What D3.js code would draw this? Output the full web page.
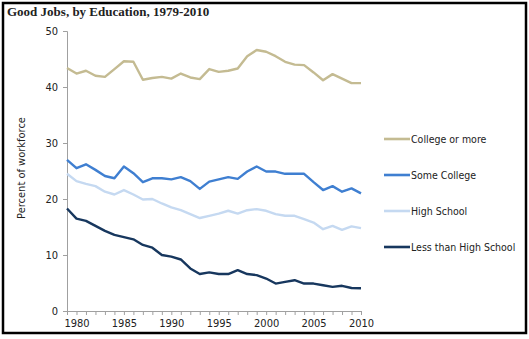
<!DOCTYPE html>
<html>
<head>
<meta charset="utf-8">
<script src="https://cdn.jsdelivr.net/npm/d3@7"></script>
<style>
  body { margin: 0; background: #fff; }
  svg text { font-family: "DejaVu Sans Condensed", "DejaVu Sans", Tahoma, sans-serif; fill: #222; }
</style>
</head>
<body>
<div id="chart"></div>
<script>
// yearly shares of the workforce in good jobs, by education level
const years = d3.range(1979, 2011);
const seriesNames = ['College or more', 'Some College', 'High School', 'Less than High School'];
const collegeOrMore = [43.4, 42.4, 42.9, 42.0, 41.8, 43.2, 44.6, 44.5, 41.3, 41.6, 41.8, 41.5, 42.4, 41.7, 41.4, 43.2,
  42.7, 42.9, 43.3, 45.5, 46.6, 46.3, 45.5, 44.5, 44.0, 43.9, 42.6, 41.2, 42.3, 41.5, 40.7, 40.7];
const someCollege = [27.0, 25.5, 26.2, 25.2, 24.1, 23.7, 25.8, 24.6, 23.0, 23.7, 23.7, 23.5, 23.9, 23.2, 21.8, 23.1,
  23.5, 23.9, 23.6, 24.9, 25.8, 24.9, 24.9, 24.5, 24.5, 24.5, 23.0, 21.6, 22.3, 21.3, 21.9, 21.0];
const highSchool = [24.5, 23.2, 22.7, 22.3, 21.3, 20.8, 21.6, 20.8, 19.9, 20.0, 19.2, 18.5, 18.0, 17.3, 16.6, 17.0,
  17.4, 17.9, 17.4, 18.0, 18.2, 17.9, 17.3, 17.0, 17.0, 16.4, 15.8, 14.6, 15.2, 14.5, 15.1, 14.8];
const lessThanHS = [18.3, 16.5, 16.1, 15.2, 14.3, 13.6, 13.2, 12.8, 11.8, 11.3, 10.0, 9.7, 9.2, 7.6, 6.6, 6.9,
  6.6, 6.6, 7.3, 6.6, 6.4, 5.8, 4.9, 5.2, 5.5, 4.9, 4.9, 4.6, 4.3, 4.5, 4.1, 4.05];
const colors = ['#c4bb92', '#3f7fd1', '#c5d9f1', '#17375e'];
const yTicks = [0, 10, 20, 30, 40, 50];
const xTickLabels = [1980, 1985, 1990, 1995, 2000, 2005, 2010];

const allSeries = [collegeOrMore, someCollege, highSchool, lessThanHS];

const W = 529, H = 339;
const svg = d3.select('#chart').append('svg')
  .attr('width', W)
  .attr('height', H);

// frame
svg.append('rect')
  .attr('x', 3).attr('y', 3)
  .attr('width', 523).attr('height', 330)
  .attr('fill', 'none')
  .attr('stroke', '#000')
  .attr('stroke-width', 2.5);

svg.append('text')
  .attr('x', 7).attr('y', 16)
  .style('font-family', '"Liberation Serif", "Times New Roman", serif')
  .style('font-weight', 'bold')
  .style('font-size', '13px')
  .text('Good Jobs, by Education, 1979-2010');

const x = d3.scaleLinear().domain([1979, 2010]).range([67, 361]);
const y = d3.scaleLinear().domain([0, 50]).range([311, 31]);

// y axis
const yAxis = svg.append('g')
  .attr('transform', 'translate(67,0)')
  .call(d3.axisLeft(y).tickValues(yTicks).tickSize(4).tickPadding(5));
yAxis.selectAll('text').style('font-size', '11px').attr('fill', '#222');

// x axis with a tick on every year
const xAxis = svg.append('g')
  .attr('transform', 'translate(0,311)')
  .call(d3.axisBottom(x).tickValues(years).tickSize(4).tickPadding(4)
    .tickFormat(d => xTickLabels.includes(d) ? d : ''));
xAxis.selectAll('text').style('font-size', '11px').attr('fill', '#222');

svg.selectAll('.domain, .tick line').attr('stroke', '#a0a0a0');

svg.append('text')
  .attr('transform', 'translate(25,168) rotate(-90)')
  .attr('text-anchor', 'middle')
  .style('font-size', '11px')
  .text('Percent of workforce');

const line = d3.line()
  .x((d, i) => x(years[i]))
  .y(d => y(d));

svg.selectAll('path.series')
  .data(allSeries)
  .join('path')
  .attr('class', 'series')
  .attr('d', line)
  .attr('fill', 'none')
  .attr('stroke', (d, i) => colors[i])
  .attr('stroke-width', 2.4)
  .attr('stroke-linejoin', 'round');

// legend
const legend = svg.selectAll('g.legend')
  .data(seriesNames)
  .join('g')
  .attr('class', 'legend')
  .attr('transform', (d, i) => `translate(384,${139 + i * 36})`);
legend.append('line')
  .attr('x1', 0).attr('x2', 26)
  .attr('stroke', (d, i) => colors[i])
  .attr('stroke-width', 2.6);
legend.append('text')
  .attr('x', 27).attr('y', 4)
  .style('font-size', '10.5px')
  .text(d => d);
</script>
</body>
</html>
